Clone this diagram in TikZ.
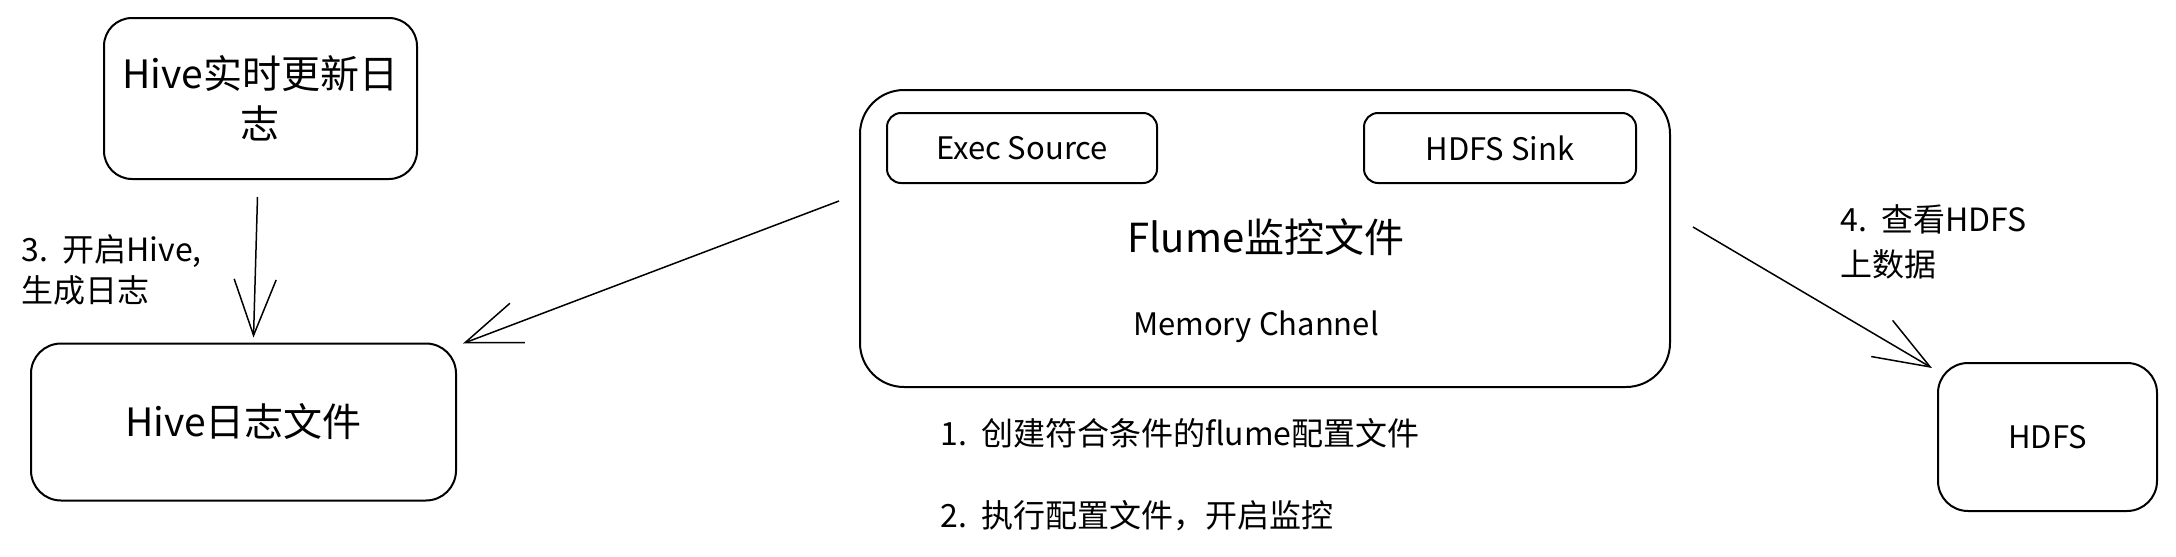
\documentclass[tikz,border=0pt]{standalone}
\usepackage{fontspec}
\setmainfont{Noto Sans CJK SC}
\usetikzlibrary{arrows.meta}

\begin{document}
\begin{tikzpicture}[x=0.5pt, y=-0.5pt]
        \useasboundingbox (0,0) rectangle (2176,557);

        \begin{scope}[every node/.style = {rectangle, draw, line width=1pt, align=center}]
            \node[minimum width=156.5pt, minimum height=80.5pt, rounded corners=14pt,
                  font=\fontsize{19.5}{25}\selectfont] (RT) at (260.5, 98.5) {Hive实时更新日\\志};
            \node[minimum width=212.5pt, minimum height=78.5pt, rounded corners=15pt,
                  font=\fontsize{19.5}{25}\selectfont] (LOG) at (243.5, 422) {Hive日志文件};

            \node[minimum width=405pt, minimum height=148.5pt, rounded corners=22pt] (FL) at (1265, 238.5) {};
            \node[minimum width=135pt, minimum height=35pt, rounded corners=7pt,
                  font=\fontsize{15.5}{19}\selectfont] (ES) at (1022, 148) {Exec Source};
            \node[minimum width=136pt, minimum height=35pt, rounded corners=7pt,
                  font=\fontsize{15.5}{19}\selectfont] (HS) at (1500, 148) {HDFS Sink};

            \node[minimum width=109.5pt, minimum height=74pt, rounded corners=15pt,
                  font=\fontsize{15.5}{19}\selectfont] (HD) at (2047.5, 437) {HDFS};
        \end{scope}

        \begin{scope}[every node/.style = {inner sep=0pt, align=left, font=\fontsize{16}{20.5}\selectfont}]
            \node (FLT) at (1266, 237) {\fontsize{20}{25}\selectfont Flume监控文件};
            \node[font=\fontsize{15.5}{19}\selectfont] (MC) at (1256, 327) {Memory Channel};

            \node[anchor=west] (L1) at (940, 433) {1.\ \ 创建符合条件的flume配置文件};
            \node[anchor=west] (L2) at (940, 516) {2.\ \ 执行配置文件，开启监控};
            \node[anchor=west] (L3) at (21, 270) {3.\ \ 开启Hive,\\生成日志};
            \node[anchor=west, font=\fontsize{16}{22.5}\selectfont] (L4) at (1840, 242) {4.\ \ 查看HDFS\\上数据};
        \end{scope}

        \begin{scope}[>={Straight Barb[length=28pt, width=21pt]},
                        every edge/.style={draw, line width=0.75pt}]
            \path [->] ([shift={(-3,17)}]RT.south) edge ([shift={(10,-5)}]LOG.north);
            \path [->] ([shift={(-20,-37.5)}]FL.west) edge ([shift={(6,1)}]LOG.north east);
            \path [->] ([shift={(22,-11.5)}]FL.east) edge ([shift={(-5,6)}]HD.north west);
        \end{scope}
    \end{tikzpicture}
\end{document}
